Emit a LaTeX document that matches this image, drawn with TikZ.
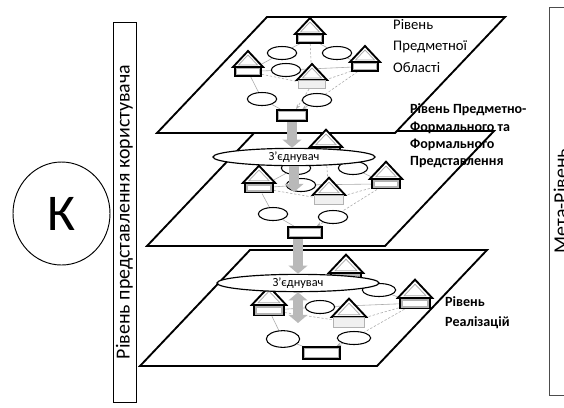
\documentclass[tikz,border=0pt]{standalone}
\usepackage{fontspec}
\setmainfont{Carlito}
\usetikzlibrary{arrows.meta,shapes.geometric}
\pgfdeclarelayer{bg}
\pgfdeclarelayer{links}
\pgfsetlayers{bg,links,main}

\tikzset{
  plane/.style={draw,fill=white,line width=1.6pt,line join=miter},
  roof/.style={draw,fill=white,line width=1.6pt,line join=miter},
  body/.style={rectangle,draw,fill=gray!60,line width=1.3pt,inner sep=0pt,
    minimum width=.78cm,minimum height=.27cm,
    path picture={\fill[white] ([shift={(2.1pt,-2.1pt)}]path picture bounding box.north west)
      rectangle ([shift={(-2.1pt,2.1pt)}]path picture bounding box.south east);}},
  faintbody/.style={rectangle,draw=gray!60,fill=gray!12,line width=.7pt,inner sep=0pt,
    minimum width=.8cm,minimum height=.25cm},
  oval/.style={ellipse,draw,fill=white,line width=.9pt,inner sep=0pt,
    minimum width=.88cm,minimum height=.39cm},
  joiner/.style={ellipse,draw,fill=white,line width=1pt,inner sep=0pt,
    minimum width=4.86cm,minimum height=.52cm,font=\fontsize{10.5}{12}\selectfont},
  link/.style={draw=gray!65,line width=.5pt},
  dlink/.style={link,dash pattern=on 2pt off 1.5pt},
  flow/.style={draw=gray!55,line width=8pt,-{Triangle[width=16pt,length=7pt]}},
  house/.pic={
    \draw[roof] (-15,0) -- (0,-16) -- (15,0) -- cycle;
    \draw[gray!70,line width=.6pt] (-9.5,-2) -- (0,-12) -- (9.5,-2) -- cycle;
    \node[body] (-body) at (0,4.5) {};
  },
  fadedhouse/.pic={
    \draw[roof] (-15,0) -- (0,-16) -- (15,0) -- cycle;
    \draw[gray!70,line width=.6pt] (-9.5,-2) -- (0,-12) -- (9.5,-2) -- cycle;
    \node[faintbody] (-body) at (0,4.5) {};
  }
}

\begin{document}
\begin{tikzpicture}[x=.03cm,y=-.03cm,>={Stealth[length=4pt,width=3pt]}]
  \useasboundingbox (0,0) rectangle (564,407);
  \clip (0,0) rectangle (564,407);

  % user side
  \node[ellipse,draw,line width=.8pt,inner sep=0pt,minimum width=2.91cm,minimum height=3.09cm,
    font=\fontsize{44}{44}\selectfont] (client) at (61.5,213.5) {К};
  \node[draw,line width=.8pt,rotate=90,inner sep=0pt,minimum width=11.4cm,minimum height=.69cm,
    font=\fontsize{17}{18}\selectfont] (userbar) at (124.5,212) {Рівень представлення користувача};
  \node[draw=black!70,line width=.6pt,rotate=90,inner sep=0pt,minimum width=11.64cm,minimum height=.69cm,
    font=\fontsize{17}{18}\selectfont] (metabar) at (560.5,201) {Мета-Рівень};

  % planes
  \begin{pgfonlayer}{bg}
    \path[plane] (140,366) -- (250,250) -- (487,250) -- (377,366) -- cycle;
    \path[plane] (147,246) -- (256,131) -- (494,131) -- (385,246) -- cycle;
    \path[plane] (157,133) -- (267,17) -- (505,17) -- (395,133) -- cycle;
  \end{pgfonlayer}

  % level A
  \node[oval] (a-nw) at (282,53) {};
  \node[oval] (a-ne) at (337,53) {};
  \node[oval] (a-m) at (286,70) {};
  \node[oval] (a-sw) at (262,99) {};
  \node[oval] (a-se) at (317,100) {};
  \pic (a-n) at (310,34) {house};
  \pic (a-w) at (248,67) {house};
  \pic (a-e) at (365,62) {house};
  \pic (a-c) at (312,80) {fadedhouse};
  \node[body,minimum width=.9cm,minimum height=.33cm,line width=1.6pt] (a-s) at (292,115.5) {};

  % level B
  \node[oval] (b-nw) at (296,168) {};
  \node[oval] (b-ne) at (353,168) {};
  \node[oval] (b-m) at (301,185) {};
  \node[oval] (b-sw) at (273,214) {};
  \node[oval] (b-se) at (333,217) {};
  \pic[scale=1.08,transform shape] (b-n) at (326,147) {house};
  \pic[scale=1.08,transform shape] (b-w) at (259,183) {house};
  \pic[scale=1.08,transform shape] (b-e) at (386,179) {house};
  \pic[scale=1.08,transform shape] (b-c) at (329,195) {fadedhouse};
  \node[body,minimum width=1.02cm,minimum height=.33cm,line width=1.6pt] (b-s) at (305,232.5) {};
  \node[joiner] (b-con) at (294,157) {З’єднувач};

  % level C
  \node[oval,minimum width=1cm] (c-ne) at (379,290) {};
  \node[oval] (c-m) at (320,307) {};
  \node[oval,minimum width=1cm,minimum height=.5cm] (c-sw) at (283,339) {};
  \node[oval,minimum width=1cm] (c-se) at (354,338) {};
  \pic[scale=1.15,transform shape] (c-n) at (346,273) {house};
  \pic[scale=1.15,transform shape] (c-w) at (269,305) {house};
  \pic[scale=1.15,transform shape] (c-e) at (415,298) {house};
  \pic[scale=1.15,transform shape] (c-c) at (349,317) {fadedhouse};
  \node[body,minimum width=1.11cm,minimum height=.36cm,line width=1.6pt] (c-s) at (321.5,353) {};
  \node[joiner] (c-con) at (298,283) {З’єднувач};
  \coordinate (c-tip) at (298,323);

  \begin{pgfonlayer}{links}
    \draw[link] (a-w-body) -- (a-nw) -- (a-n-body);
    \draw[link] (a-n-body) -- (a-ne) -- (a-e-body);
    \draw[link] (a-w-body) -- (a-m) -- (a-e-body);
    \draw[dlink] (a-w-body) -- (a-c-body) -- (a-e-body);
    \draw[dlink] (a-n-body) -- (a-c-body);
    \draw[link] (a-w-body) -- (a-sw) -- (a-s);
    \draw[dlink] (a-e-body) -- (a-se);
    \draw[dlink,->] (a-se) -- (a-s);
    \draw[dlink,->] (a-c-body) -- (a-s);

    \draw[link] (b-w-body) -- (b-nw) -- (b-n-body);
    \draw[link] (b-n-body) -- (b-ne) -- (b-e-body);
    \draw[link] (b-w-body) -- (b-m) -- (b-e-body);
    \draw[dlink] (b-w-body) -- (b-c-body) -- (b-e-body);
    \draw[dlink] (b-n-body) -- (b-c-body);
    \draw[link] (b-w-body) -- (b-sw) -- (b-s);
    \draw[dlink] (b-e-body) -- (b-se);
    \draw[dlink,->] (b-se) -- (b-s);

    \draw[link] (c-n-body) -- (c-ne) -- (c-e-body);
    \draw[link] (c-w-body) -- (c-m) -- (c-e-body);
    \draw[dlink] (c-w-body) -- (c-c-body) -- (c-e-body);
    \draw[link] (c-w-body) -- (c-sw) -- (c-s);
    \draw[dlink] (c-e-body) -- (c-se);
    \draw[dlink,->] (c-se) -- (c-s);
  \end{pgfonlayer}

  % flows between levels
  \draw[flow] (a-s.south) -- (a-s.south |- b-con.north);
  \draw[flow] (b-con.south) -- (b-con.south |- b-m.south);
  \draw[flow] (c-con.north |- b-s.south) -- (c-con.north);
  \draw[flow,{Triangle[width=16pt,length=7pt]}-{Triangle[width=16pt,length=7pt]}] (c-con.south) -- (c-tip);

  % level names
  \node[anchor=west,align=left,inner sep=0pt,font=\fontsize{12.5}{18}\selectfont] (lblA) at (393,46)
    {Рівень\\Предметної\\Області};
  \node[anchor=west,align=left,inner sep=0pt,font=\bfseries\fontsize{12}{14.8}\selectfont] (lblB) at (410,136)
    {Рівень Предметно-\\Формального та\\Формального\\Представлення};
  \node[anchor=west,align=left,inner sep=0pt,font=\bfseries\fontsize{12}{17}\selectfont] (lblC) at (445,313)
    {Рівень\\Реалізацій};
\end{tikzpicture}
\end{document}
